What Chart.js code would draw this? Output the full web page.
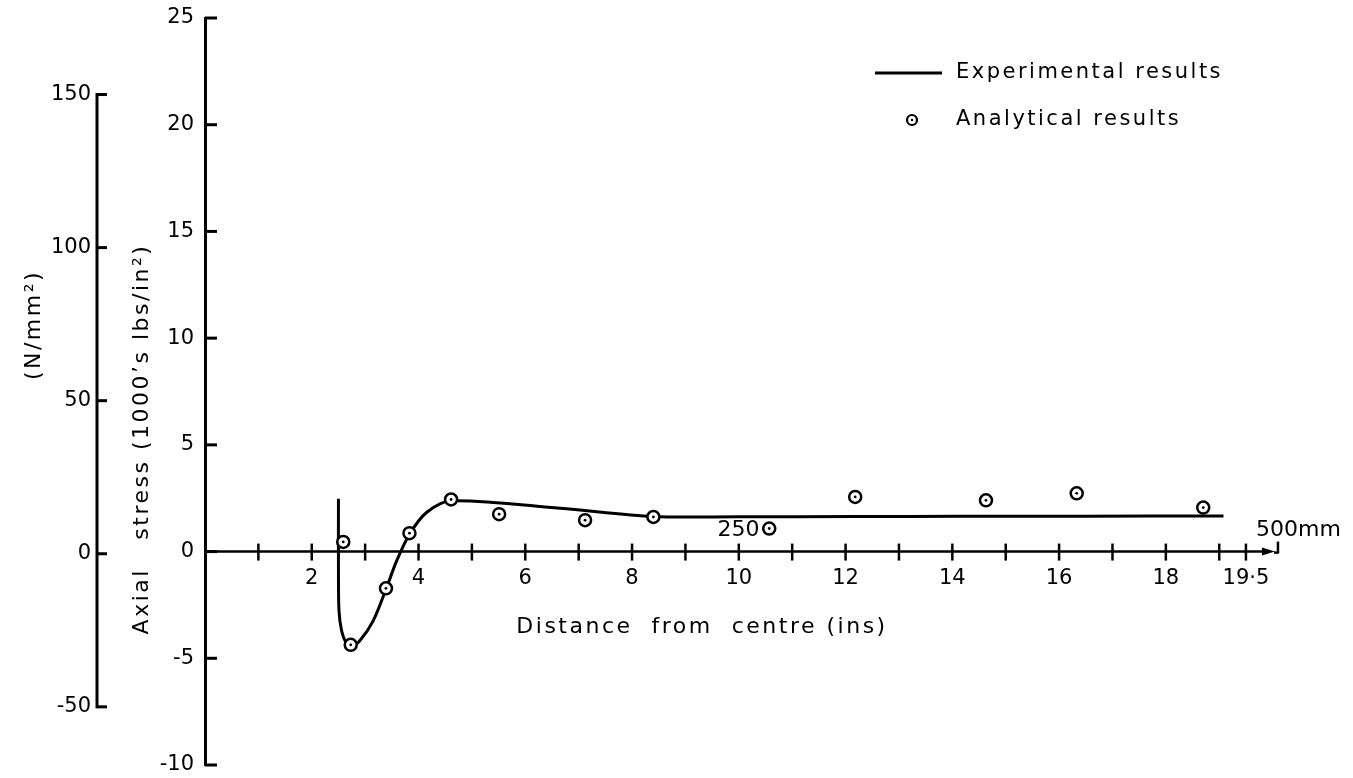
<!DOCTYPE html>
<html>
<head>
<meta charset="utf-8">
<title>Axial stress - distance from centre</title>
<script src="https://cdn.jsdelivr.net/npm/chart.js@4.4.1/dist/chart.umd.min.js"></script>
<style>
  html, body { margin: 0; padding: 0; background: #fff; }
  #wrap { width: 1353px; height: 778px; }
</style>
</head>
<body>
<div id="wrap"><canvas id="stressChart"></canvas></div>
<script>
// Experimental results (solid curve): distance (ins) / axial stress (1000's lbs/in2)
const experimentalX = [2.50, 2.50, 2.51, 2.56, 2.64, 2.73, 2.90, 3.15, 3.39, 3.59, 3.83, 4.15, 4.61, 6.65, 8.40, 9.98, 12.18, 14.14, 16.45, 19.08];
const experimentalY = [2.48, -0.90, -2.78, -3.72, -4.26, -4.47, -4.18, -3.25, -1.77, -0.44, 0.81, 1.83, 2.38, 2.03, 1.64, 1.63, 1.64, 1.65, 1.66, 1.67];

// Analytical results (circles)
const analyticalX = [2.59, 2.73, 3.39, 3.83, 4.61, 5.51, 7.12, 8.40, 10.57, 12.18, 14.63, 16.33, 18.70];
const analyticalY = [0.45, -4.37, -1.72, 0.86, 2.44, 1.75, 1.47, 1.62, 1.08, 2.56, 2.40, 2.73, 2.06];

// Tick values and labels
const xTicks = [1, 2, 3, 4, 5, 6, 7, 8, 9, 10, 11, 12, 13, 14, 15, 16, 17, 18, 19, 19.5];
const xLabelValues = [2, 4, 6, 8, 10, 12, 14, 16, 18, 19.5];
const xLabelTexts = ['2', '4', '6', '8', '10', '12', '14', '16', '18', '19·5'];
const yTicks = [-10, -5, 0, 5, 10, 15, 20, 25];
const metricTicks = [-50, 0, 50, 100, 150];
const mmLabels = ['250', '500mm'];

const FONT = 'DejaVu Sans';

// helper to draw a straight line
function seg(ctx, x1, y1, x2, y2) {
    ctx.beginPath();
    ctx.moveTo(x1, y1);
    ctx.lineTo(x2, y2);
    ctx.stroke();
}

// keep the plot area where the layout padding puts it
function noScalePadding(s) {
    s.paddingTop = 0;
    s.paddingBottom = 0;
    s.paddingLeft = 0;
    s.paddingRight = 0;
}

// Axis lines, tick marks, titles and legend drawn on top of the chart
const axisDecor = {
    id: 'axisDecor',
    afterDraw(chart) {
        const ctx = chart.ctx;
        const xs = chart.scales.x;
        const ys = chart.scales.y;
        const ns = chart.scales.n;
        const y0 = ys.getPixelForValue(0);

        ctx.save();
        ctx.strokeStyle = '#000';
        ctx.fillStyle = '#000';
        ctx.lineWidth = 3;

        // main stress axis ticks (pointing into the plot)
        yTicks.forEach(v => {
            const py = ys.getPixelForValue(v);
            seg(ctx, ys.right, py, ys.right + 12, py);
        });

        // N/mm2 axis: line from -50 to 150 plus ticks
        const nTop = ns.getPixelForValue(metricTicks[metricTicks.length - 1]);
        const nBot = ns.getPixelForValue(metricTicks[0]);
        seg(ctx, ns.right, nTop - 1.5, ns.right, nBot + 1.5);
        metricTicks.forEach(v => {
            const py = ns.getPixelForValue(v);
            seg(ctx, ns.right, py, ns.right + 10, py);
        });

        // distance axis with arrow
        const xEnd = xs.getPixelForValue(20.1);
        ctx.lineWidth = 2.5;
        seg(ctx, ys.right, y0, xEnd - 14, y0);
        ctx.beginPath();
        ctx.moveTo(xEnd - 16, y0 - 4);
        ctx.lineTo(xEnd - 3, y0);
        ctx.lineTo(xEnd - 16, y0 + 4);
        ctx.closePath();
        ctx.fill();
        seg(ctx, xEnd, y0 + 2, xEnd, y0 - 10);
        seg(ctx, xEnd - 4, y0 + 1, xEnd, y0 + 1);
        xTicks.forEach(v => {
            const px = xs.getPixelForValue(v);
            seg(ctx, px, y0 - 8, px, y0 + 9);
        });

        // mm marks
        ctx.font = '22px "' + FONT + '"';
        ctx.textBaseline = 'middle';
        ctx.textAlign = 'center';
        ctx.fillText(mmLabels[0], xs.getPixelForValue(250 / 25.4) + 8, y0 - 21);
        ctx.textAlign = 'left';
        ctx.fillText(mmLabels[1], xEnd - 22, y0 - 21);

        // axis titles
        ctx.letterSpacing = '2.5px';
        ctx.font = '22px "' + FONT + '"';
        ctx.textAlign = 'center';
        ctx.fillText('Distance  from  centre (ins)', 702, 627);

        ctx.save();
        ctx.translate(142, 439);
        ctx.rotate(-Math.PI / 2);
        ctx.fillText('Axial   stress (1000\u2019s lbs/in\u00b2)', 0, 0);
        ctx.restore();

        ctx.save();
        ctx.translate(34, 325);
        ctx.rotate(-Math.PI / 2);
        ctx.fillText('(N/mm\u00b2)', 0, 0);
        ctx.restore();

        // legend
        ctx.font = '21px "' + FONT + '"';
        ctx.textAlign = 'left';
        ctx.lineWidth = 3;
        seg(ctx, 875, 73, 942, 73);
        ctx.fillText('Experimental results', 956, 73);
        ctx.lineWidth = 2.2;
        ctx.beginPath();
        ctx.arc(912, 120, 5, 0, Math.PI * 2);
        ctx.stroke();
        ctx.beginPath();
        ctx.arc(912, 120, 1.2, 0, Math.PI * 2);
        ctx.fill();
        ctx.fillText('Analytical results', 956, 120);

        ctx.restore();
    }
};

const experimental = experimentalX.map((x, i) => ({ x: x, y: experimentalY[i] }));
const analytical = analyticalX.map((x, i) => ({ x: x, y: analyticalY[i] }));

new Chart(document.getElementById('stressChart'), {
    type: 'scatter',
    data: {
        datasets: [
            {
                label: 'Analytical results (centre)',
                data: analytical,
                pointRadius: 1.4,
                pointBackgroundColor: '#000',
                pointBorderWidth: 0,
                showLine: false,
                order: 0
            },
            {
                label: 'Analytical results',
                data: analytical,
                pointRadius: 6,
                pointBorderWidth: 2.5,
                pointBorderColor: '#000',
                pointBackgroundColor: '#fff',
                showLine: false,
                order: 1
            },
            {
                label: 'Experimental results',
                data: experimental,
                showLine: true,
                borderColor: '#000',
                borderWidth: 3,
                pointRadius: 0,
                tension: 0.3,
                fill: false,
                order: 2
            }
        ]
    },
    options: {
        responsive: true,
        maintainAspectRatio: false,
        animation: false,
        layout: { padding: { left: 0, right: 27, top: 18, bottom: 13 } },
        plugins: {
            legend: { display: false },
            tooltip: { enabled: false }
        },
        scales: {
            x: {
                type: 'linear',
                min: 0,
                max: 21,
                position: { y: 0 },
                grid: { display: false, drawTicks: false },
                border: { display: false },
                afterBuildTicks: s => { s.ticks = xTicks.map(v => ({ value: v })); },
                afterFit: noScalePadding,
                ticks: {
                    color: '#000',
                    padding: 14,
                    maxRotation: 0,
                    autoSkip: false,
                    font: { family: FONT, size: 21 },
                    callback: v => {
                        const k = xLabelValues.indexOf(v);
                        return k >= 0 ? xLabelTexts[k] : '';
                    }
                }
            },
            y: {
                type: 'linear',
                position: 'left',
                weight: 0,
                min: -10,
                max: 25,
                grid: { display: false, drawTicks: false },
                border: { display: true, width: 3, color: '#000' },
                afterBuildTicks: s => { s.ticks = yTicks.map(v => ({ value: v })); },
                afterFit: s => { s.width = 108; noScalePadding(s); },
                ticks: {
                    color: '#000',
                    padding: 11,
                    font: { family: FONT, size: 21 },
                    callback: v => String(v)
                }
            },
            n: {
                type: 'linear',
                axis: 'y',
                position: 'left',
                weight: 1,
                min: -69,
                max: 175,
                grid: { display: false, drawTicks: false },
                border: { display: false },
                afterBuildTicks: s => { s.ticks = metricTicks.map(v => ({ value: v })); },
                afterFit: s => { s.width = 97; noScalePadding(s); },
                ticks: {
                    color: '#000',
                    padding: 6,
                    font: { family: FONT, size: 21 },
                    callback: v => String(v)
                }
            }
        }
    },
    plugins: [axisDecor]
});
</script>
</body>
</html>
